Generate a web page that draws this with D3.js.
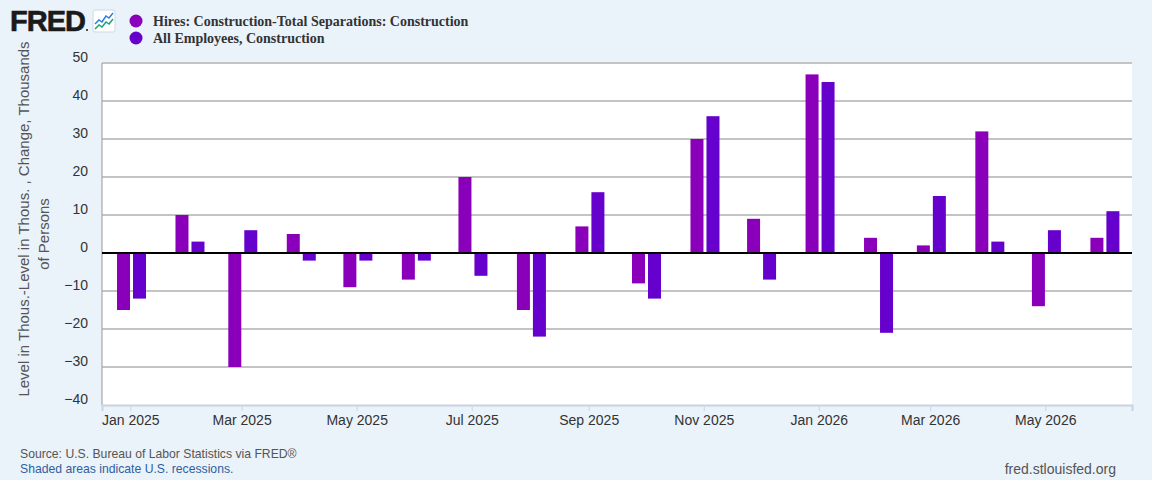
<!DOCTYPE html>
<html>
<head>
<meta charset="utf-8">
<script src="https://cdn.jsdelivr.net/npm/d3@7"></script>
<style>
  html, body { margin: 0; padding: 0; background: #eaf2fa; }
  svg { display: block; font-family: "Liberation Sans", Arial, sans-serif; }
</style>
</head>
<body>
<svg id="chart"></svg>
<script>
// monthly observations
const months = ['2025-01','2025-02','2025-03','2025-04','2025-05','2025-06','2025-07','2025-08','2025-09',
                '2025-10','2025-11','2025-12','2026-01','2026-02','2026-03','2026-04','2026-05','2026-06'];
const hiresMinusSeparations = [-15, 10, -30, 5, -9, -7, 20, -15, 7, -8, 30, 9, 47, 4, 2, 32, -14, 4];
const employeesChange = [-12, 3, 6, -2, -2, -2, -6, -22, 16, -12, 36, -7, 45, -21, 15, 3, 6, 11];
const seriesNames = ['Hires: Construction-Total Separations: Construction', 'All Employees, Construction'];
const seriesColors = ['#8a00ba', '#6600cc'];
const yTicks = [-40, -30, -20, -10, 0, 10, 20, 30, 40, 50];
const xTickMonths = ['2025-01','2025-03','2025-05','2025-07','2025-09','2025-11','2026-01','2026-03','2026-05'];

const width = 1152, height = 480;
const margin = {top: 63, right: 20, bottom: 75, left: 102};
const innerW = width - margin.left - margin.right;
const innerH = height - margin.top - margin.bottom;

const parse = d3.timeParse('%Y-%m');
const fmt = d3.timeFormat('%b %Y');

const svg = d3.select('#chart').attr('width', width).attr('height', height);

// background
svg.append('rect').attr('width', width).attr('height', height).attr('fill', '#eaf2fa');

const chart = svg.append('g')
    .attr('transform', `translate(${margin.left}, ${margin.top})`);

chart.append('rect')
    .attr('width', innerW)
    .attr('height', innerH)
    .attr('fill', '#ffffff');

// scales
const xscale = d3.scaleTime()
    .domain([new Date(2024, 11, 17), new Date(2026, 5, 16)])
    .range([0, innerW]);
const yscale = d3.scaleLinear()
    .domain([-40, 50])
    .range([innerH, 0]);

// gridlines
chart.append('g')
    .selectAll('line')
    .data(yTicks.filter(d => d !== 0 && d !== -40))
    .join('line')
    .attr('x1', 0).attr('x2', innerW)
    .attr('y1', d => yscale(d)).attr('y2', d => yscale(d))
    .attr('stroke', '#c4c4c4')
    .attr('stroke-width', 2);

// y axis labels
const yaxis = d3.axisLeft(yscale).tickValues(yTicks).tickSize(0).tickPadding(14);
const yg = chart.append('g').call(yaxis);
yg.select('.domain').remove();
yg.selectAll('text')
    .attr('dy', '-0.12em')
    .style('font-size', '14px')
    .style('font-family', '"Liberation Sans", Arial, sans-serif')
    .attr('fill', '#333');

// left axis line
chart.append('line')
    .attr('x1', 0).attr('x2', 0).attr('y1', 0).attr('y2', innerH)
    .attr('stroke', '#999').attr('stroke-width', 1);

// x axis
const xaxis = d3.axisBottom(xscale)
    .tickValues(xTickMonths.map(parse))
    .tickFormat(fmt)
    .tickSize(6)
    .tickPadding(4);
const xg = chart.append('g')
    .attr('transform', `translate(0, ${innerH})`)
    .call(xaxis);
xg.select('.domain').attr('stroke', '#c8d2e0').attr('stroke-width', 2);
xg.selectAll('.tick line').attr('stroke', '#c8d8ea');
xg.selectAll('text')
    .style('font-size', '14px')
    .style('font-family', '"Liberation Sans", Arial, sans-serif')
    .attr('fill', '#333');

// bars
const barW = 13;
const rows = months.map((m, i) => ({date: parse(m), values: [hiresMinusSeparations[i], employeesChange[i]]}));
const offsets = [-13.3, 2.7];

[0, 1].forEach(s => {
    chart.append('g')
        .selectAll('rect')
        .data(rows)
        .join('rect')
        .attr('x', d => xscale(d.date) + offsets[s])
        .attr('width', barW)
        .attr('y', d => yscale(Math.max(0, d.values[s])))
        .attr('height', d => Math.abs(yscale(d.values[s]) - yscale(0)))
        .attr('fill', seriesColors[s]);
});

// zero line
chart.append('line')
    .attr('x1', 0).attr('x2', innerW)
    .attr('y1', yscale(0)).attr('y2', yscale(0))
    .attr('stroke', '#000').attr('stroke-width', 2);

// y axis title
const ytitle = svg.append('g')
    .attr('fill', '#555')
    .style('font-size', '15px');
ytitle.append('text')
    .attr('transform', 'translate(29, 219) rotate(-90)')
    .attr('text-anchor', 'middle')
    .text('Level in Thous.-Level in Thous. , Change, Thousands');
ytitle.append('text')
    .attr('transform', 'translate(49, 234) rotate(-90)')
    .attr('text-anchor', 'middle')
    .text('of Persons');

// FRED logo
svg.append('text')
    .attr('x', 10).attr('y', 31)
    .style('font-size', '29px')
    .style('font-weight', 'bold')
    .style('letter-spacing', '-1px')
    .attr('fill', '#1a1a1a')
    .attr('stroke', '#1a1a1a')
    .attr('stroke-width', 0.6)
    .text('FRED');
svg.append('circle').attr('cx', 87).attr('cy', 30).attr('r', 1).attr('fill', '#1a1a1a');
const icon = svg.append('g').attr('transform', 'translate(93, 10)');
icon.append('rect').attr('width', 22).attr('height', 22).attr('rx', 2)
    .attr('fill', '#fff').attr('stroke', '#d0d8e4');
icon.append('polyline')
    .attr('points', '2,14 6,10 9,12 13,6 16,8 20,3')
    .attr('fill', 'none').attr('stroke', '#2a7de1').attr('stroke-width', 1.5);
icon.append('polyline')
    .attr('points', '2,19 6,15 9,17 13,12 16,14 20,9')
    .attr('fill', 'none').attr('stroke', '#1aa37a').attr('stroke-width', 1.5);

// legend
const legend = svg.append('g');
seriesNames.forEach((name, i) => {
    legend.append('circle')
        .attr('cx', 136).attr('cy', 21 + i * 17).attr('r', 6.5)
        .attr('fill', seriesColors[i]);
    legend.append('text')
        .attr('x', 153).attr('y', 21 + i * 17)
        .attr('dy', '0.35em')
        .style('font-family', '"Liberation Serif", "Times New Roman", serif')
        .style('font-weight', 'bold')
        .style('font-size', '14px')
        .attr('fill', '#333')
        .text(name);
});

// footer
svg.append('text')
    .attr('x', 20).attr('y', 458)
    .style('font-size', '12.2px')
    .attr('fill', '#555')
    .text('Source: U.S. Bureau of Labor Statistics via FRED®');
svg.append('text')
    .attr('x', 20).attr('y', 473)
    .style('font-size', '12.2px')
    .attr('fill', '#2f5f9e')
    .text('Shaded areas indicate U.S. recessions.');
svg.append('text')
    .attr('x', 1116).attr('y', 474)
    .attr('text-anchor', 'end')
    .style('font-size', '14px')
    .attr('fill', '#555')
    .text('fred.stlouisfed.org');
</script>
</body>
</html>
